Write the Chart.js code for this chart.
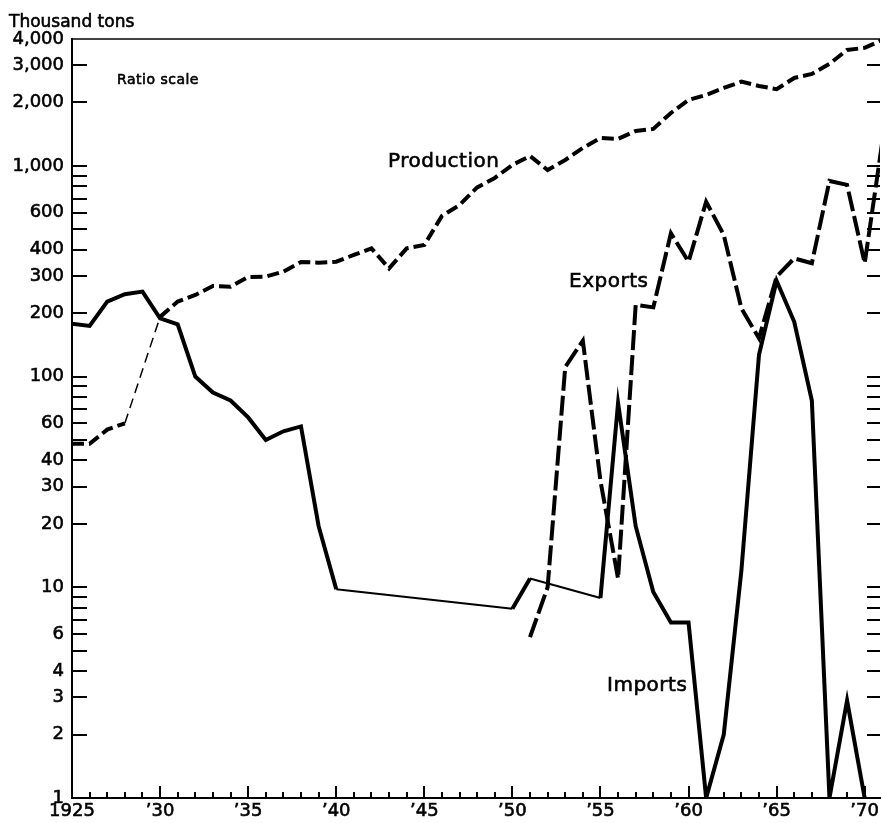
<!DOCTYPE html>
<html>
<head>
<meta charset="utf-8">
<script src="https://cdn.jsdelivr.net/npm/chart.js@4"></script>
<style>
  html, body { margin: 0; padding: 0; background: #fff; }
</style>
</head>
<body>
<canvas id="chart" width="882" height="823"></canvas>
<script>
// values in thousand tons
const productionYears = [1925, 1926, 1927, 1928, 1930, 1931, 1932, 1933, 1934, 1935, 1936, 1937, 1938, 1939, 1940, 1941, 1942, 1943, 1944, 1945, 1946, 1947, 1948, 1949, 1950, 1951, 1952, 1953, 1954, 1955, 1956, 1957, 1958, 1959, 1960, 1961, 1962, 1963, 1964, 1965, 1966, 1967, 1968, 1969, 1970, 1971];
const productionValues = [48, 48, 56, 60, 192, 227, 244, 269, 267, 297, 298, 315, 350, 347, 351, 378, 406, 326, 406, 421, 579, 652, 790, 876, 1010, 1114, 956, 1067, 1216, 1356, 1342, 1465, 1497, 1783, 2055, 2172, 2342, 2510, 2395, 2310, 2613, 2730, 3047, 3550, 3630, 3960];

const importYears = [1925, 1926, 1927, 1928, 1929, 1930, 1931, 1932, 1933, 1934, 1935, 1936, 1937, 1938, 1939, 1940, 1950, 1951, 1955, 1956, 1957, 1958, 1959, 1960, 1961, 1962, 1963, 1964, 1965, 1966, 1967, 1968, 1969, 1970];
const importValues = [178, 174, 227, 246, 253, 189, 177, 100, 84, 77, 64, 50, 55, 58, 19.5, 9.8, 7.9, 11, 8.9, 75, 19.5, 9.5, 6.8, 6.8, 1, 2, 12, 127, 285, 182, 77, 1, 2.9, 1];

const exportYears = [1951, 1952, 1953, 1954, 1955, 1956, 1957, 1958, 1959, 1960, 1961, 1962, 1963, 1964, 1965, 1966, 1967, 1968, 1969, 1970, 1971];
const exportValues = [5.8, 10, 111, 148, 32, 11, 219, 213, 479, 351, 676, 470, 211, 152, 298, 364, 345, 848, 812, 345, 1303];

// segments drawn thin in the original (estimated stretches)
const thinProductionFrom = [1928];
const thinImportFrom = [1940, 1951];

const yLabelTicks = [1, 2, 3, 4, 6, 10, 20, 30, 40, 60, 100, 200, 300, 400, 600, 1000, 2000, 3000, 4000];
const yMarkTicks = [1, 2, 3, 4, 5, 6, 7, 8, 9, 10, 20, 30, 40, 50, 60, 70, 80, 90, 100, 200, 300, 400, 500, 600, 700, 800, 900, 1000, 2000, 3000];
const xYears = [];
for (let yr = 1925; yr <= 1970; yr++) xYears.push(yr);

const toPoints = (xs, vs) => xs.map((x, i) => ({ x: x, y: vs[i] }));

const FONT = '"DejaVu Sans", sans-serif';

function heavyText(ctx, text, x, y) {
    ctx.fillText(text, x, y);
    ctx.strokeText(text, x, y);
}

const frame = {
    id: "frame",
    afterDraw(chart) {
        const ctx = chart.ctx;
        const a = chart.chartArea;
        const x = chart.scales.x;
        const y = chart.scales.y;
        ctx.save();
        ctx.strokeStyle = "#000";

        // top border
        ctx.lineWidth = 1.5;
        ctx.beginPath();
        ctx.moveTo(a.left, a.top);
        ctx.lineTo(a.right, a.top);
        ctx.stroke();

        // inward tick marks on both vertical sides
        ctx.lineWidth = 2;
        ctx.beginPath();
        yMarkTicks.forEach(v => {
            const py = Math.round(y.getPixelForValue(v));
            ctx.moveTo(a.left, py);
            ctx.lineTo(a.left + 15, py);
            ctx.moveTo(a.right, py);
            ctx.lineTo(a.right - 13, py);
        });
        // year ticks pointing up
        xYears.forEach(yr => {
            const px = Math.round(x.getPixelForValue(yr));
            const len = yr % 5 === 0 ? 12 : 6;
            ctx.moveTo(px, a.bottom);
            ctx.lineTo(px, a.bottom - len);
        });
        ctx.stroke();

        ctx.fillStyle = "#000";
        ctx.lineWidth = 0.6;
        ctx.textBaseline = "alphabetic";
        ctx.textAlign = "left";
        ctx.font = "17px " + FONT;
        heavyText(ctx, "Thousand tons", 9, 27);
        ctx.font = "14px " + FONT;
        ctx.letterSpacing = "0.5px";
        heavyText(ctx, "Ratio scale", 117, 84);
        ctx.font = "20px " + FONT;
        heavyText(ctx, "Production", 388, 167);
        heavyText(ctx, "Exports", 569, 287);
        heavyText(ctx, "Imports", 607, 691);
        ctx.restore();
    }
};

new Chart(document.getElementById("chart"), {
    type: "line",
    data: {
        datasets: [
            {
                label: "Production",
                data: toPoints(productionYears, productionValues),
                borderColor: "#000",
                borderWidth: 4,
                borderDash: [12, 5],
                segment: {
                    borderWidth: c => thinProductionFrom.includes(c.p0.parsed.x) ? 1.5 : undefined,
                    borderDash: c => thinProductionFrom.includes(c.p0.parsed.x) ? [10, 6] : undefined
                }
            },
            {
                label: "Exports",
                data: toPoints(exportYears, exportValues),
                borderColor: "#000",
                borderWidth: 4,
                borderDash: [20, 5]
            },
            {
                label: "Imports",
                data: toPoints(importYears, importValues),
                borderColor: "#000",
                borderWidth: 4,
                segment: {
                    borderWidth: c => thinImportFrom.includes(c.p0.parsed.x) ? 2 : undefined
                }
            }
        ]
    },
    options: {
        responsive: false,
        animation: false,
        layout: { padding: { top: 39, right: 0, left: 0, bottom: 0 } },
        elements: {
            point: { radius: 0 },
            line: { tension: 0, fill: false, borderCapStyle: "butt" }
        },
        plugins: {
            legend: { display: false },
            tooltip: { enabled: false }
        },
        scales: {
            x: {
                type: "linear",
                min: 1925,
                max: 1970.87,
                afterFit: s => { s.height = 25; },
                afterBuildTicks: s => { s.ticks = xYears.map(v => ({ value: v })); },
                grid: { display: false, drawTicks: false },
                border: { display: true, color: "#000", width: 2 },
                ticks: {
                    autoSkip: false,
                    maxRotation: 0,
                    padding: 3,
                    color: "#000",
                    textStrokeColor: "#000",
                    textStrokeWidth: 0.6,
                    font: { family: FONT, size: 18 },
                    callback: v => v % 5 !== 0 ? "" : (v === 1925 ? "1925" : "\u2019" + String(v).slice(2))
                }
            },
            y: {
                type: "logarithmic",
                min: 1,
                max: 4000,
                afterFit: s => { s.width = 72; },
                afterBuildTicks: s => { s.ticks = yLabelTicks.map(v => ({ value: v })); },
                grid: { display: false, drawTicks: false },
                border: { display: true, color: "#000", width: 2 },
                ticks: {
                    autoSkip: false,
                    padding: 8,
                    color: "#000",
                    textStrokeColor: "#000",
                    textStrokeWidth: 0.6,
                    font: { family: FONT, size: 18 },
                    callback: v => Number(v).toLocaleString("en-US")
                }
            }
        }
    },
    plugins: [frame]
});
</script>
</body>
</html>
